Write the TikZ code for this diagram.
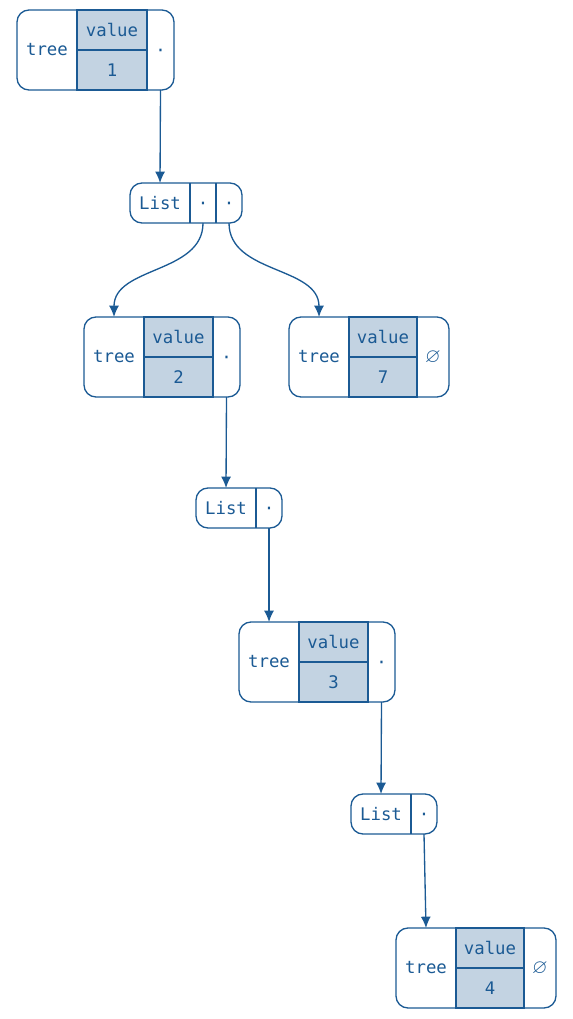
\documentclass[tikz,border=0pt]{standalone}
\usepackage{fontspec}
\setmonofont{DejaVu Sans Mono}
\usepackage{amssymb}
\usepackage{xcolor}
\usepackage{tikz}
\usetikzlibrary{arrows.meta}

\definecolor{lineblue}{HTML}{1B5A94}
\definecolor{cellblue}{HTML}{C3D3E2}

\tikzset{
  every node/.style={font=\ttfamily\fontsize{13}{15}\selectfont, text=lineblue, inner sep=0pt, outer sep=0pt},
  treecell/.style={minimum width=45pt, minimum height=60pt, anchor=north west},
  valcell/.style={draw=lineblue, fill=cellblue, line width=1pt, minimum width=52pt, minimum height=30pt, anchor=north west},
  ptrcell/.style={minimum width=20.25pt, minimum height=60pt, anchor=north west},
  nilcell/.style={minimum width=24pt, minimum height=60pt, anchor=north west},
  listcell/.style={minimum width=45pt, minimum height=30pt, anchor=north west},
  lptrcell/.style={minimum width=19.5pt, minimum height=30pt, anchor=north west},
  frame/.style={draw=lineblue, line width=1pt, rounded corners=9pt},
  divider/.style={draw=lineblue, line width=1pt},
  link/.style={draw=lineblue, line width=1pt, -{Latex[length=8.5pt,width=7.5pt]}},
}
\newcommand{\dotmark}{\smash{\raisebox{-5pt}{·}}}
\newcommand{\nilmark}{{\fontsize{15}{17}\selectfont$\varnothing$}}

\begin{document}
\begin{tikzpicture}[x=0.75pt, y=-0.75pt]
\useasboundingbox (0,0) rectangle (573,1019);
% tree 1
\node [treecell] (t1) at (17,10) {tree};
\node [valcell, minimum width=52.5pt] (t1v) at (t1.north east) {value};
\node [valcell, minimum width=52.5pt, anchor=north] (t1n) at (t1v.south) {1};
\node [ptrcell] (t1p) at (t1v.north east) {\dotmark};
\draw [frame] (t1.north west) rectangle (t1p.south east);
% list 1
\node [listcell] (l1) at (130,183) {List};
\node [lptrcell] (l1a) at (l1.north east) {\dotmark};
\node [lptrcell] (l1b) at (l1a.north east) {\dotmark};
\draw [divider] (l1a.north west) -- (l1a.south west);
\draw [divider] (l1b.north west) -- (l1b.south west);
\draw [frame] (l1.north west) rectangle (l1b.south east);
% tree 2
\node [treecell] (t2) at (84,317) {tree};
\node [valcell, minimum width=51.75pt] (t2v) at (t2.north east) {value};
\node [valcell, minimum width=51.75pt, anchor=north] (t2n) at (t2v.south) {2};
\node [ptrcell] (t2p) at (t2v.north east) {\dotmark};
\draw [frame] (t2.north west) rectangle (t2p.south east);
% tree 7
\node [treecell] (t7) at (289,317) {tree};
\node [valcell, minimum width=51pt] (t7v) at (t7.north east) {value};
\node [valcell, minimum width=51pt, anchor=north] (t7n) at (t7v.south) {7};
\node [nilcell] (t7p) at (t7v.north east) {\nilmark};
\draw [frame] (t7.north west) rectangle (t7p.south east);
% list 2
\node [listcell] (l2) at (196,488) {List};
\node [lptrcell] (l2a) at (l2.north east) {\dotmark};
\draw [divider] (l2a.north west) -- (l2a.south west);
\draw [frame] (l2.north west) rectangle (l2a.south east);
% tree 3
\node [treecell] (t3) at (239,622) {tree};
\node [valcell, minimum width=51.75pt] (t3v) at (t3.north east) {value};
\node [valcell, minimum width=51.75pt, anchor=north] (t3n) at (t3v.south) {3};
\node [ptrcell] (t3p) at (t3v.north east) {\dotmark};
\draw [frame] (t3.north west) rectangle (t3p.south east);
% list 3
\node [listcell] (l3) at (351,794) {List};
\node [lptrcell] (l3a) at (l3.north east) {\dotmark};
\draw [divider] (l3a.north west) -- (l3a.south west);
\draw [frame] (l3.north west) rectangle (l3a.south east);
% tree 4
\node [treecell] (t4) at (396,928) {tree};
\node [valcell, minimum width=51pt] (t4v) at (t4.north east) {value};
\node [valcell, minimum width=51pt, anchor=north] (t4n) at (t4v.south) {4};
\node [nilcell] (t4p) at (t4v.north east) {\nilmark};
\draw [frame] (t4.north west) rectangle (t4p.south east);
% links
\draw [link] (t1p.south) -- (l1.north);
\draw [link] (l1a.south) to[out=-90, in=90] (t2.north);
\draw [link] (l1b.south) to[out=-90, in=90] (t7.north);
\draw [link] (t2p.south) -- (l2.north);
\draw [link] (l2a.south) -- (t3.north);
\draw [link] (t3p.south) -- (l3.north);
\draw [link] (l3a.south) -- (t4.north);
\end{tikzpicture}
\end{document}
